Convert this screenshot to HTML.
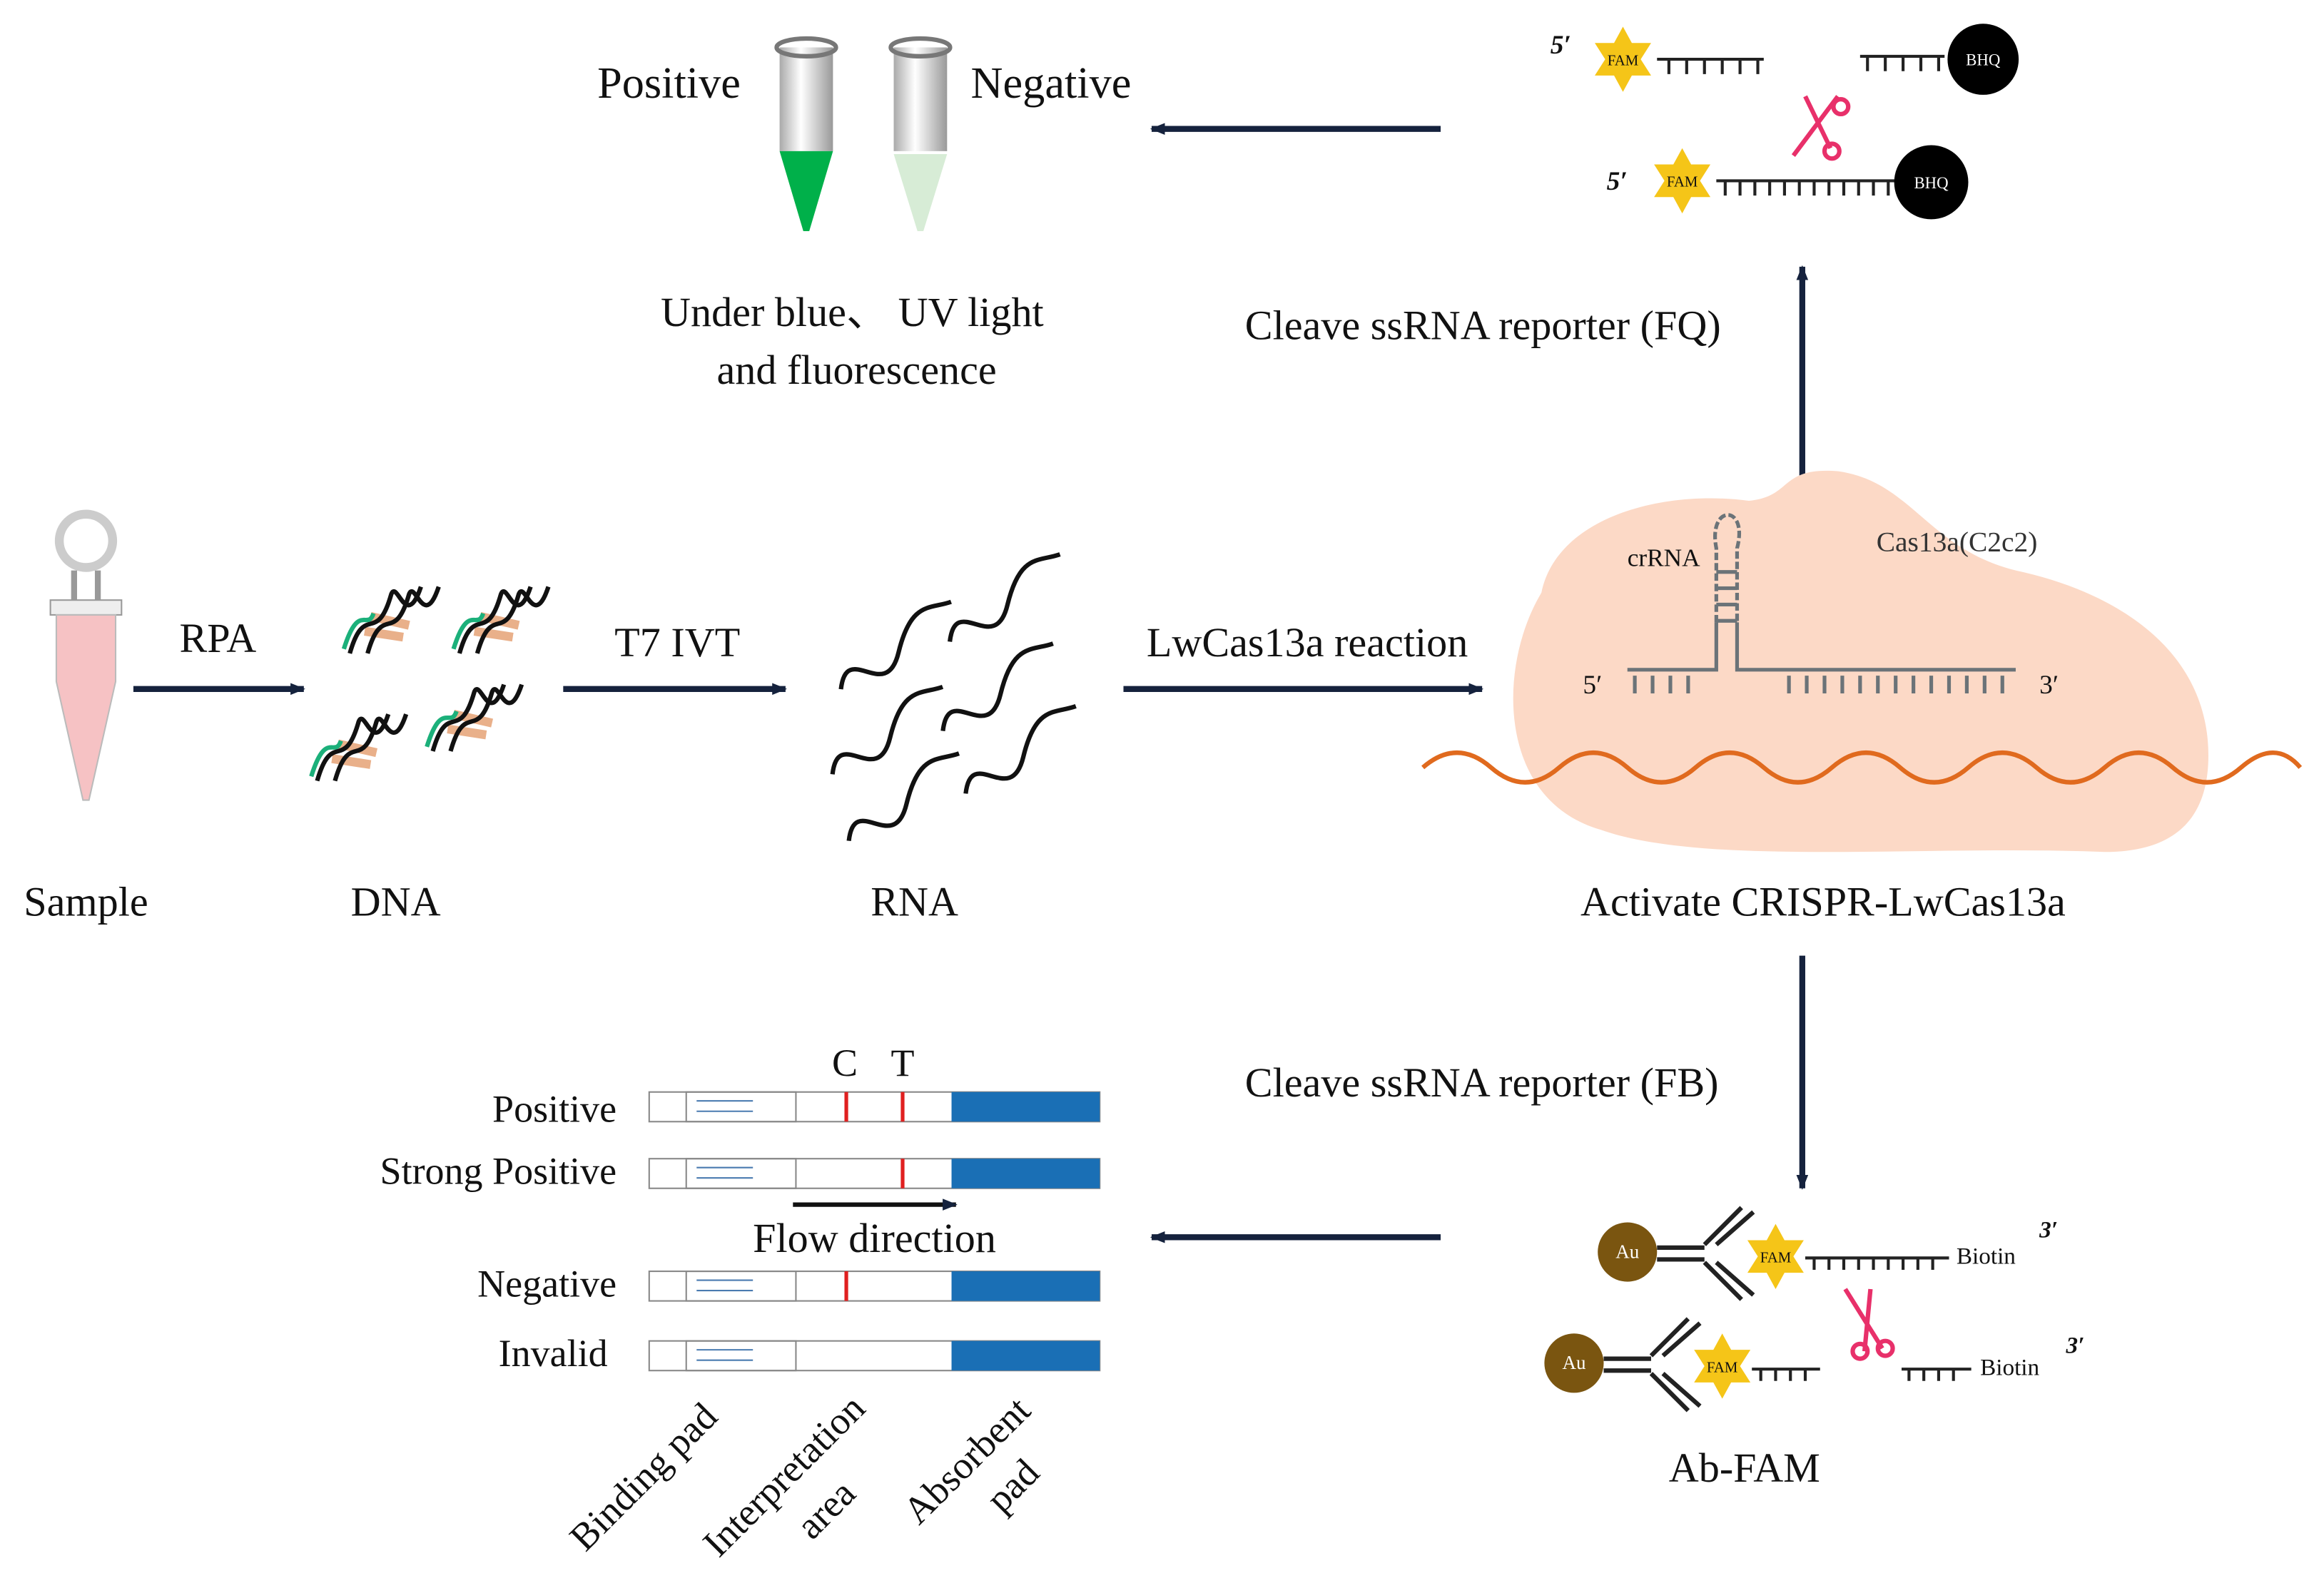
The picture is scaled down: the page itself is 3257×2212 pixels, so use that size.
<!DOCTYPE html>
<html><head><meta charset="utf-8"><style>
html,body{margin:0;padding:0;background:#fff;}
svg{display:block;}
text{font-family:"Liberation Serif",serif;fill:#111;}
</style></head><body>
<svg width="3257" height="2212" viewBox="0 0 1568 1065" preserveAspectRatio="none" xmlns="http://www.w3.org/2000/svg">
<defs>
<marker id="ah" markerWidth="10" markerHeight="8" refX="9" refY="4" orient="auto" markerUnits="userSpaceOnUse"><path d="M0,0 L10,4 L0,8 Z" fill="#15223d"/></marker>
<linearGradient id="tg" x1="0" x2="1"><stop offset="0" stop-color="#aaa"/><stop offset=".4" stop-color="#fff"/><stop offset="1" stop-color="#999"/></linearGradient>
<g id="star"><polygon points="0,-22 6,-11 19,-11 12,0 19,11 6,11 0,22 -6,11 -19,11 -12,0 -19,-11 -6,-11" fill="#f5c518"/></g>
<g id="dna" fill="none" stroke-width="3">
<path d="M14,20 L40,26 M10,30 L36,34" stroke="#e9b08a" stroke-width="6"/>
<path d="M0,45 C10,10 18,40 28,5 C32,-5 38,30 48,0" stroke="#111"/>
<path d="M12,45 C22,10 30,40 40,5 C44,-5 50,30 60,0" stroke="#111"/>
<path d="M-4,42 C6,10 12,30 16,18" stroke="#1bb07a"/>
</g>
<path id="rna" d="M0,30 C15,0 25,50 45,20 S75,0 90,0" stroke="#111" stroke-width="3" fill="none"/>
</defs>
<rect width="1568" height="1065" fill="#fff"/>

<!-- top tubes -->
<text x="403" y="66" font-size="30">Positive</text>
<text x="655" y="66" font-size="30">Negative</text>
<rect x="526" y="32" width="36" height="70" fill="url(#tg)"/>
<ellipse cx="544" cy="32" rx="20" ry="6" fill="none" stroke="#777" stroke-width="3"/>
<polygon points="526,102 562,102 546,156 542,156" fill="#00b04a"/>
<rect x="603" y="32" width="36" height="70" fill="url(#tg)"/>
<ellipse cx="621" cy="32" rx="20" ry="6" fill="none" stroke="#777" stroke-width="3"/>
<polygon points="603,104 639,104 623,156 619,156" fill="#d7ecd6"/>
<text x="575" y="220" font-size="28" text-anchor="middle">Under blue、 UV light</text>
<text x="578" y="259" font-size="28" text-anchor="middle">and fluorescence</text>
<line x1="972" y1="87" x2="777" y2="87" stroke="#15223d" stroke-width="4" marker-end="url(#ah)"/>

<!-- FQ reporter -->
<text x="1046" y="36" font-size="18" font-weight="bold" font-style="italic">5′</text>
<use href="#star" x="1095" y="40"/><text x="1095" y="44" font-size="10" text-anchor="middle">FAM</text>
<path d="M1118,40 H1190 M1126,40v10 M1138,40v10 M1150,40v10 M1162,40v10 M1174,40v10 M1186,40v10 M1255,38H1312 M1260,38v10 M1272,38v10 M1284,38v10 M1296,38v10 M1308,38v10" stroke="#222" stroke-width="2"/>
<circle cx="1338" cy="40" r="24" fill="#000"/><text x="1338" y="44" font-size="11" text-anchor="middle" style="fill:#fff">BHQ</text>
<g stroke="#e8306a" stroke-width="3" fill="none"><line x1="1210" y1="105" x2="1240" y2="65"/><line x1="1218" y1="65" x2="1235" y2="100"/><circle cx="1242" cy="72" r="5"/><circle cx="1236" cy="102" r="5"/></g>
<text x="1084" y="128" font-size="18" font-weight="bold" font-style="italic">5′</text>
<use href="#star" x="1135" y="122"/><text x="1135" y="126" font-size="10" text-anchor="middle">FAM</text>
<path d="M1158,122 H1282 M1164,122v10 M1174,122v10 M1184,122v10 M1194,122v10 M1204,122v10 M1214,122v10 M1224,122v10 M1234,122v10 M1244,122v10 M1254,122v10 M1264,122v10 M1274,122v10" stroke="#222" stroke-width="2"/>
<circle cx="1303" cy="123" r="25" fill="#000"/><text x="1303" y="127" font-size="11" text-anchor="middle" style="fill:#fff">BHQ</text>
<line x1="1216" y1="336" x2="1216" y2="180" stroke="#15223d" stroke-width="4" marker-end="url(#ah)"/>
<text x="840" y="229" font-size="28">Cleave ssRNA reporter (FQ)</text>

<!-- sample tube -->
<circle cx="58" cy="365" r="18" fill="none" stroke="#ccc" stroke-width="6"/>
<rect x="48" y="385" width="4" height="22" fill="#999"/><rect x="64" y="385" width="4" height="22" fill="#999"/>
<rect x="34" y="405" width="48" height="10" fill="#eee" stroke="#999"/>
<path d="M38,415 H78 V460 L60,540 L56,540 L38,460 Z" fill="#f6c2c4" stroke="#bbb"/>
<text x="58" y="618" font-size="28" text-anchor="middle">Sample</text>
<line x1="90" y1="465" x2="205" y2="465" stroke="#15223d" stroke-width="4" marker-end="url(#ah)"/>
<text x="147" y="440" font-size="28" text-anchor="middle">RPA</text>

<!-- DNA -->
<use href="#dna" x="236" y="396"/><use href="#dna" x="310" y="396"/><use href="#dna" x="214" y="482"/><use href="#dna" x="292" y="462"/>
<text x="267" y="618" font-size="28" text-anchor="middle">DNA</text>
<line x1="380" y1="465" x2="530" y2="465" stroke="#15223d" stroke-width="4" marker-end="url(#ah)"/>
<text x="457" y="443" font-size="28" text-anchor="middle">T7  IVT</text>

<!-- RNA -->
<g transform="rotate(-20 640 460)">
<use href="#rna" x="570" y="410"/><use href="#rna" x="650" y="405"/><use href="#rna" x="545" y="462"/><use href="#rna" x="625" y="460"/>
<use href="#rna" x="540" y="508"/><use href="#rna" x="625" y="505"/>
</g>
<text x="617" y="618" font-size="28" text-anchor="middle">RNA</text>
<line x1="758" y1="465" x2="1000" y2="465" stroke="#15223d" stroke-width="4" marker-end="url(#ah)"/>
<text x="882" y="443" font-size="28" text-anchor="middle">LwCas13a reaction</text>

<!-- Cas13 blob -->
<path d="M1040,400 C1050,350 1120,330 1180,338 C1210,335 1200,315 1240,318 C1290,325 1300,370 1360,385 C1430,400 1490,440 1490,510 C1490,550 1470,575 1420,575 C1300,570 1150,585 1080,560 C1010,540 1010,450 1040,400 Z" fill="#fcd9c6"/>
<path d="M960,518 q23,-20 46,0 t46,0 t46,0 t46,0 t46,0 t46,0 t46,0 t46,0 t46,0 t46,0 t46,0 t46,0 t40,0" stroke="#e06a1e" stroke-width="3" fill="none"/>
<g stroke="#6b7378" stroke-width="2.5" fill="none">
<path d="M1098,452 H1158 V420 M1172,420 V452 H1360"/>
<path d="M1158,420 V370 C1152,340 1180,340 1172,370 V420" stroke-dasharray="5,2"/>
<path d="M1158,386H1172 M1158,397H1172 M1158,408H1172 M1158,419H1172"/>
<path d="M1103,456v12 M1115,456v12 M1127,456v12 M1139,456v12 M1207,456v12 M1219,456v12 M1231,456v12 M1243,456v12 M1255,456v12 M1267,456v12 M1279,456v12 M1291,456v12 M1303,456v12 M1315,456v12 M1327,456v12 M1339,456v12 M1351,456v12"/>
</g>
<text x="1068" y="468" font-size="18">5′</text><text x="1376" y="468" font-size="18">3′</text>
<text x="1098" y="382" font-size="17">crRNA</text>
<text x="1266" y="372" font-size="19" style="fill:#333">Cas13a(C2c2)</text>
<text x="1230" y="618" font-size="28" text-anchor="middle">Activate CRISPR-LwCas13a</text>

<line x1="1216" y1="645" x2="1216" y2="802" stroke="#15223d" stroke-width="4" marker-end="url(#ah)"/>
<text x="840" y="740" font-size="28">Cleave ssRNA reporter (FB)</text>
<line x1="972" y1="835" x2="777" y2="835" stroke="#15223d" stroke-width="4" marker-end="url(#ah)"/>

<!-- Ab-FAM -->
<circle cx="1098" cy="845" r="20" fill="#7a5510"/><text x="1098" y="849" font-size="13" text-anchor="middle" style="fill:#fff">Au</text>
<path d="M1118,842H1150 M1118,850H1150 M1150,840 L1175,815 M1158,840 L1183,818 M1150,852 L1175,877 M1158,852 L1183,874" stroke="#222" stroke-width="3"/>
<use href="#star" x="1198" y="848"/><text x="1198" y="852" font-size="10" text-anchor="middle">FAM</text>
<path d="M1218,849H1315 M1224,849v8 M1234,849v8 M1244,849v8 M1254,849v8 M1264,849v8 M1274,849v8 M1284,849v8 M1294,849v8 M1304,849v8" stroke="#222" stroke-width="2"/>
<text x="1320" y="853" font-size="16">Biotin</text><text x="1376" y="835" font-size="16" font-weight="bold" font-style="italic">3′</text>
<g stroke="#e8306a" stroke-width="3" fill="none"><line x1="1245" y1="870" x2="1270" y2="910"/><line x1="1262" y1="870" x2="1258" y2="912"/><circle cx="1272" cy="910" r="5"/><circle cx="1255" cy="912" r="5"/></g>
<circle cx="1062" cy="920" r="20" fill="#7a5510"/><text x="1062" y="924" font-size="13" text-anchor="middle" style="fill:#fff">Au</text>
<path d="M1082,917H1114 M1082,925H1114 M1114,915 L1139,890 M1122,915 L1147,893 M1114,927 L1139,952 M1122,927 L1147,949" stroke="#222" stroke-width="3"/>
<use href="#star" x="1162" y="922"/><text x="1162" y="926" font-size="10" text-anchor="middle">FAM</text>
<path d="M1182,924H1228 M1188,924v8 M1198,924v8 M1208,924v8 M1218,924v8 M1283,924H1330 M1288,924v8 M1298,924v8 M1308,924v8 M1318,924v8" stroke="#222" stroke-width="2"/>
<text x="1336" y="928" font-size="16">Biotin</text><text x="1394" y="913" font-size="16" font-weight="bold" font-style="italic">3′</text>
<text x="1177" y="1000" font-size="28" text-anchor="middle">Ab-FAM</text>

<!-- strips -->
<g font-size="26">
<text x="416" y="757" text-anchor="end">Positive</text>
<text x="416" y="799" text-anchor="end">Strong Positive</text>
<text x="416" y="875" text-anchor="end">Negative</text>
<text x="410" y="922" text-anchor="end">Invalid</text>
</g>
<text x="570" y="726" font-size="26" text-anchor="middle">C</text>
<text x="609" y="726" font-size="26" text-anchor="middle">T</text>
<g id="strip">
<rect x="438" y="737" width="304" height="20" fill="#fff" stroke="#888"/>
<rect x="463" y="737" width="74" height="20" fill="none" stroke="#888"/>
<path d="M470,743H508 M470,750H508" stroke="#4a7bb0" stroke-width="1"/>
<rect x="642" y="737" width="100" height="20" fill="#1a6fb5"/>
</g>
<use href="#strip" y="45"/><use href="#strip" y="121"/><use href="#strip" y="168"/>
<path d="M571,737v20 M609,737v20 M609,782v20 M571,858v20" stroke="#e02020" stroke-width="2.5"/>
<line x1="535" y1="813" x2="645" y2="813" stroke="#111" stroke-width="3" marker-end="url(#ah)"/>
<text x="590" y="845" font-size="28" text-anchor="middle">Flow direction</text>
<g font-size="26">
<text transform="translate(395,1048) rotate(-45)">Binding pad</text>
<text transform="translate(485,1052) rotate(-45)">Interpretation</text>
<text transform="translate(548,1040) rotate(-45)">area</text>
<text transform="translate(620,1030) rotate(-45)">Absorbent</text>
<text transform="translate(676,1022) rotate(-45)">pad</text>
</g>
</svg>
</body></html>
